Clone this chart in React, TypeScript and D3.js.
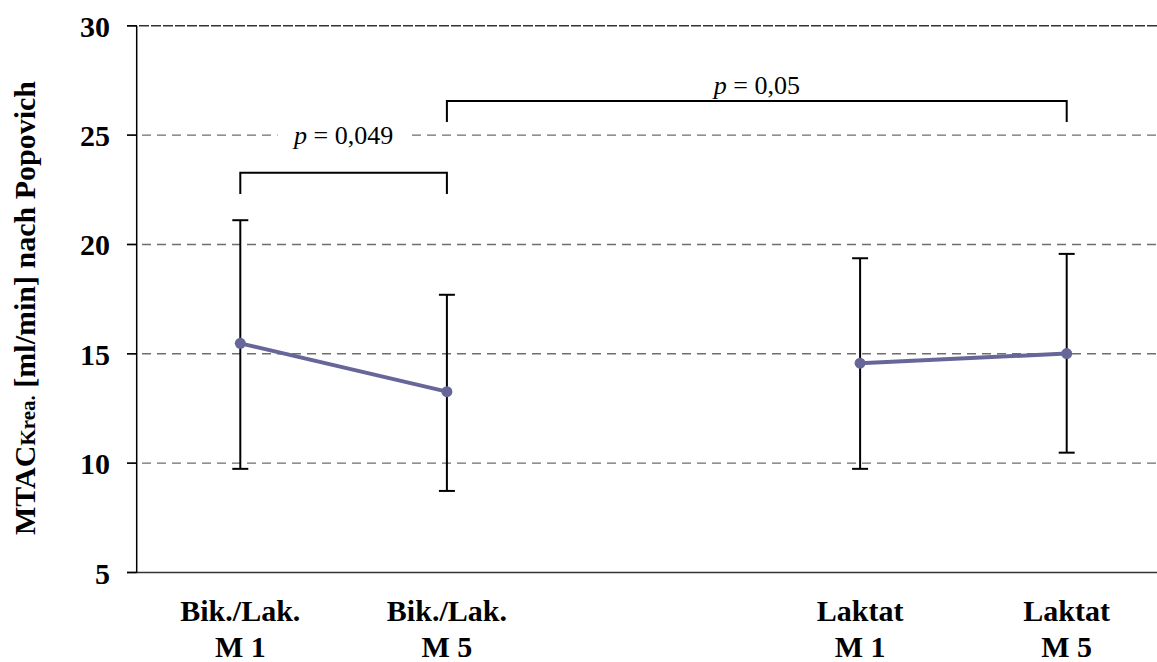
import React from "react";
import * as d3 from "d3";

const slots = ["bm1", "bm5", "gap", "lm1", "lm5"];
const labelsTop = ["Bik./Lak.", "Bik./Lak.", "", "Laktat", "Laktat"];
const labelsBottom = ["M 1", "M 5", "", "M 1", "M 5"];

const groupBik = ["bm1", "bm5"];
const groupLak = ["lm1", "lm5"];
const means: Record<string, number> = { bm1: 15.48, bm5: 13.27, lm1: 14.57, lm5: 15.01 };
const upper: Record<string, number> = { bm1: 21.11, bm5: 17.7, lm1: 19.37, lm5: 19.57 };
const lower: Record<string, number> = { bm1: 9.74, bm5: 8.73, lm1: 9.74, lm5: 10.48 };

const yTicks = [5, 10, 15, 20, 25, 30];

const brackets = [
  { from: "bm1", to: "bm5", top: 23.28, bottom: 22.31, label: "0,049", labelY: 25, bg: true },
  { from: "bm5", to: "lm5", top: 26.56, bottom: 25.6, label: "0,05", labelY: 27.3, bg: false },
];

const FONT = "'Liberation Serif', 'Times New Roman', serif";

export default function App() {
  const W = 1157, H = 662;
  const x = d3.scaleBand<string>().domain(slots).range([137, 1170]).paddingInner(0).paddingOuter(0);
  const cx = (k: string) => (x(k) as number) + x.bandwidth() / 2;
  const y = d3.scaleLinear().domain([5, 30]).range([572.5, 25.8]);
  const line = d3.line<string>().x((k) => cx(k)).y((k) => y(means[k]));
  const axisX = 136.7;

  return (
    <svg width={W} height={H} style={{ position: "absolute", left: 0, top: 0, background: "#fff" }} fontFamily={FONT}>
      <rect x={0} y={0} width={W} height={H} fill="#fff" />
      {/* gridlines */}
      {yTicks.map((t) => {
        const dark = t === 5 || t === 30;
        return (
          <line key={"g" + t} x1={127} x2={W} y1={y(t)} y2={y(t)}
            stroke={dark ? "#333" : "#6e6e6e"} strokeWidth={dark ? 1.6 : 1.4}
            strokeDasharray={t === 5 ? undefined : dark ? "10,2" : "9,6"} />
        );
      })}
      {/* y axis */}
      <line x1={axisX} x2={axisX} y1={y(30)} y2={y(5)} stroke="#000" strokeWidth={1.5} />
      {yTicks.map((t) => (
        <g key={"t" + t}>
          <line x1={127} x2={axisX} y1={y(t)} y2={y(t)} stroke="#000" strokeWidth={1.5} />
          <text x={110} y={y(t) + 11} textAnchor="end" fontSize={30} fontWeight="bold">{t}</text>
        </g>
      ))}
      {/* y title */}
      <text transform={`translate(35,308) rotate(-90)`} textAnchor="middle" fontSize={30} fontWeight="bold">
        MTAC<tspan fontSize={21}>Krea.</tspan> [ml/min] nach Popovich
      </text>
      {/* x labels */}
      {slots.map((k, i) => (
        <g key={"xl" + k}>
          <text x={cx(k)} y={621} textAnchor="middle" fontSize={30} fontWeight="bold">{labelsTop[i]}</text>
          <text x={cx(k)} y={657} textAnchor="middle" fontSize={30} fontWeight="bold">{labelsBottom[i]}</text>
        </g>
      ))}
      {/* error bars */}
      {[...groupBik, ...groupLak].map((k) => (
        <g key={"e" + k} stroke="#000" strokeWidth={2}>
          <line x1={cx(k)} x2={cx(k)} y1={y(upper[k])} y2={y(lower[k])} />
          <line x1={cx(k) - 8} x2={cx(k) + 8} y1={y(upper[k])} y2={y(upper[k])} />
          <line x1={cx(k) - 8} x2={cx(k) + 8} y1={y(lower[k])} y2={y(lower[k])} />
        </g>
      ))}
      {/* lines */}
      {[groupBik, groupLak].map((g, i) => (
        <g key={"l" + i}>
          <path d={line(g) as string} fill="none" stroke="#666699" strokeWidth={4} />
          {g.map((k) => (
            <circle key={k} cx={cx(k)} cy={y(means[k])} r={5.5} fill="#666699" />
          ))}
        </g>
      ))}
      {/* brackets */}
      {brackets.map((b, i) => {
        const x1 = cx(b.from), x2 = cx(b.to);
        const mid = (x1 + x2) / 2;
        return (
          <g key={"b" + i}>
            <path d={`M${x1},${y(b.bottom)}V${y(b.top)}H${x2}V${y(b.bottom)}`} fill="none" stroke="#000" strokeWidth={2} />
            {b.bg && <rect x={mid - 66} y={y(b.labelY) - 18} width={132} height={30} fill="#fff" />}
            <text x={mid} y={y(b.labelY) + 9} textAnchor="middle" fontSize={26}>
              <tspan fontStyle="italic">p</tspan> = {b.label}
            </text>
          </g>
        );
      })}
    </svg>
  );
}
